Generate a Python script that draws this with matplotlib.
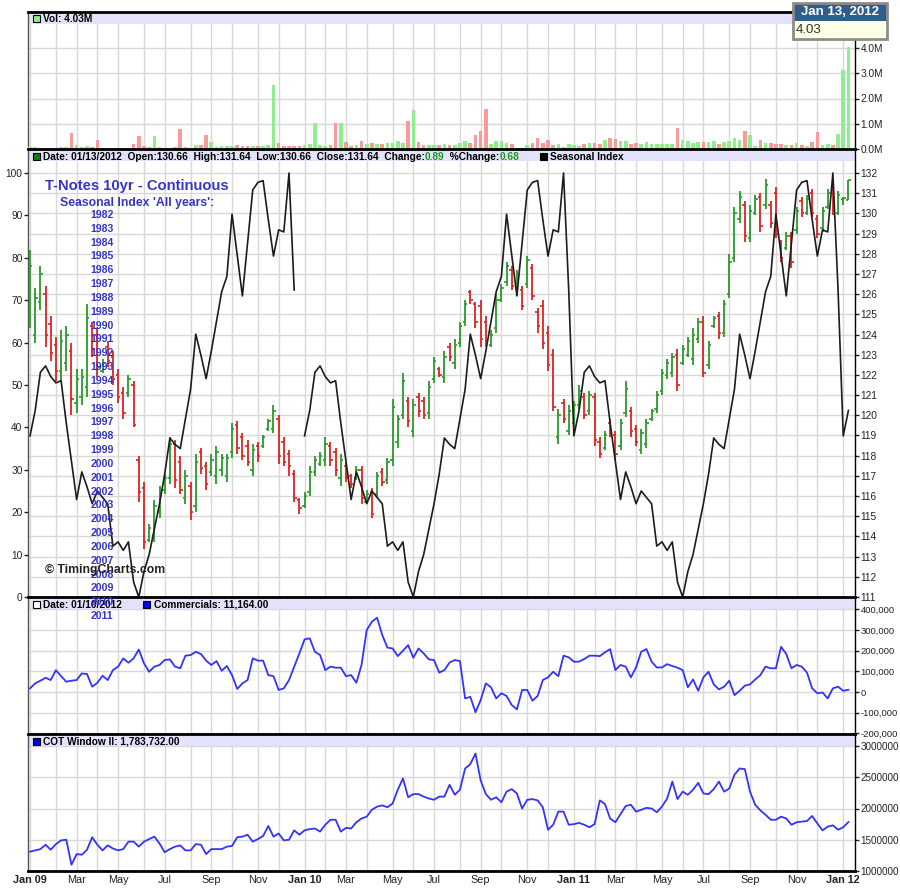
import matplotlib
matplotlib.use("Agg")
import matplotlib.pyplot as plt
import matplotlib.patches as mpatches
import matplotlib.ticker as mticker
import numpy as np
import pandas as pd


FIRST_WEEK = "2009-01-02"

HIGH = [
    128.2, 126.3, 127.4, 126.4, 124.9, 123.9, 124.2, 124.4, 123.6, 122.3,
    122.3, 125.5, 124.6, 124.3, 122.8, 123.7, 123.2, 122.3, 121.4, 122.0,
    121.7, 118.0, 116.7, 114.6, 115.8, 116.5, 117.1, 118.9, 118.8, 118.0,
    117.3, 116.7, 118.1, 118.4, 117.7, 118.1, 118.5, 118.1, 118.1, 119.6,
    119.7, 119.1, 118.8, 118.6, 118.7, 119.0, 119.8, 120.5, 120.0, 118.9,
    118.3, 117.3, 115.9, 116.2, 117.5, 118.0, 118.2, 118.9, 118.7, 118.4,
    118.1, 117.7, 117.1, 117.5, 117.5, 116.3, 116.4, 117.2, 117.4, 117.9,
    120.8, 120.0, 122.1, 120.9, 120.8, 121.1, 120.9, 121.7, 122.9, 122.4,
    123.2, 123.6, 123.8, 124.6, 125.7, 126.2, 125.6, 125.7, 124.9, 124.2,
    126.0, 126.5, 127.6, 127.4, 127.2, 126.4, 127.9, 127.5, 125.3, 125.7,
    124.4, 123.3, 120.3, 120.8, 120.5, 120.7, 121.5, 121.1, 121.2, 121.1,
    118.9, 119.2, 119.8, 119.2, 119.8, 121.7, 120.4, 119.5, 119.3, 119.8,
    120.3, 121.2, 122.3, 122.8, 123.1, 123.3, 123.5, 123.9, 124.3, 124.8,
    124.9, 123.7, 124.9, 125.1, 125.7, 128.0, 130.3, 131.1, 130.6, 130.4,
    130.9, 131.0, 131.7, 130.6, 131.3, 128.7, 129.1, 129.1, 130.3, 130.8,
    130.9, 131.2, 129.9, 130.3, 131.2, 131.4, 131.1, 130.8, 131.64,
]
LOW = [
    124.3, 123.6, 125.2, 123.4, 122.7, 121.7, 121.7, 122.2, 120.0, 120.1,
    120.5, 120.9, 122.9, 121.9, 122.1, 122.4, 121.5, 120.6, 119.8, 120.9,
    119.4, 115.7, 113.4, 113.7, 113.7, 114.9, 116.1, 116.6, 116.4, 116.1,
    115.6, 114.8, 115.2, 117.1, 116.3, 117.0, 116.6, 117.0, 116.7, 117.9,
    118.1, 117.8, 117.5, 117.0, 117.7, 118.4, 119.2, 119.1, 117.6, 117.5,
    117.0, 115.7, 115.1, 115.4, 116.0, 117.0, 117.5, 117.5, 117.5, 117.0,
    116.5, 116.7, 116.4, 116.8, 115.6, 115.6, 114.9, 115.9, 116.5, 116.6,
    117.5, 118.4, 119.8, 119.4, 118.9, 119.9, 119.8, 119.8, 121.6, 121.9,
    121.6, 122.7, 122.3, 123.4, 124.4, 125.5, 124.3, 123.4, 123.4, 123.4,
    124.1, 125.6, 126.4, 126.2, 126.2, 125.2, 126.3, 125.7, 124.1, 123.3,
    122.2, 120.2, 118.6, 119.6, 119.0, 119.4, 120.3, 119.8, 120.0, 118.5,
    117.9, 118.3, 118.9, 117.8, 118.3, 119.9, 118.9, 118.5, 118.1, 118.4,
    119.7, 120.1, 121.0, 121.8, 121.9, 121.2, 122.5, 122.9, 122.5, 123.6,
    121.9, 122.3, 124.3, 123.8, 123.9, 125.8, 127.6, 129.5, 128.6, 128.6,
    129.9, 129.1, 130.2, 129.3, 128.8, 127.6, 128.2, 127.3, 129.0, 129.8,
    129.9, 129.8, 128.8, 129.1, 130.2, 129.9, 129.9, 130.4, 130.66,
]
OPEN = [
    124.8, 124.0, 125.6, 126.0, 124.5, 123.5, 122.2, 122.6, 123.2, 120.6,
    120.9, 121.4, 124.4, 124.0, 122.2, 123.4, 122.9, 122.0, 121.1, 121.1,
    121.5, 117.8, 116.4, 113.8, 114.0, 115.2, 116.3, 116.9, 118.6, 117.7,
    115.9, 116.5, 115.5, 118.2, 117.5, 117.2, 117.0, 117.3, 117.0, 118.2,
    119.5, 118.9, 118.5, 117.3, 118.5, 118.5, 119.3, 119.3, 119.8, 118.7,
    118.1, 117.1, 115.8, 115.5, 116.2, 117.2, 117.6, 117.8, 118.5, 118.2,
    116.9, 117.5, 117.0, 116.9, 117.3, 115.7, 116.2, 116.1, 117.2, 116.8,
    117.8, 118.7, 120.0, 120.7, 119.2, 120.9, 120.7, 120.1, 121.8, 122.3,
    121.9, 123.4, 122.6, 123.6, 124.6, 126.1, 125.5, 125.4, 124.6, 123.5,
    124.3, 125.7, 126.6, 127.2, 126.3, 126.2, 126.5, 127.3, 125.1, 125.4,
    124.1, 123.0, 118.9, 120.6, 119.2, 119.6, 120.5, 120.9, 120.2, 120.9,
    118.7, 118.4, 119.6, 119.0, 118.5, 120.1, 120.2, 119.3, 118.3, 118.6,
    119.8, 120.3, 121.2, 122.0, 122.1, 123.0, 122.6, 123.0, 122.8, 123.8,
    124.6, 122.5, 124.4, 124.9, 124.1, 126.0, 127.8, 129.7, 130.4, 128.8,
    130.0, 130.8, 130.4, 130.4, 131.0, 128.5, 128.3, 128.9, 129.2, 130.6,
    130.0, 131.0, 129.7, 129.3, 130.3, 131.2, 130.0, 130.7, 130.66,
]
CLOSE = [
    127.4, 125.8, 127.0, 124.0, 123.1, 122.2, 123.7, 124.0, 120.8, 121.8,
    121.9, 124.8, 123.3, 122.4, 122.6, 122.7, 121.8, 120.9, 120.1, 121.8,
    119.5, 116.2, 113.7, 114.4, 115.5, 116.2, 116.9, 118.6, 116.8, 116.3,
    117.0, 115.2, 117.7, 117.4, 116.6, 117.8, 118.2, 117.9, 117.9, 119.3,
    118.4, 118.0, 117.7, 118.3, 118.0, 118.9, 119.7, 120.2, 118.0, 117.7,
    117.5, 115.9, 115.4, 116.0, 117.2, 117.8, 118.0, 118.6, 117.8, 117.3,
    117.8, 116.9, 116.6, 117.3, 115.9, 116.1, 115.1, 117.0, 116.7, 117.7,
    120.4, 119.8, 121.7, 119.7, 120.5, 120.2, 120.0, 121.4, 122.7, 122.0,
    122.9, 122.9, 123.5, 124.4, 125.5, 125.7, 124.6, 123.8, 123.7, 124.0,
    125.7, 126.3, 127.4, 126.4, 127.0, 125.4, 127.7, 125.9, 124.4, 123.6,
    122.5, 120.4, 120.0, 119.8, 120.2, 120.5, 121.2, 120.0, 121.0, 118.8,
    118.1, 119.0, 119.1, 118.1, 119.6, 121.3, 119.2, 118.7, 119.1, 119.6,
    120.2, 121.0, 122.1, 122.6, 122.9, 121.5, 123.3, 123.7, 124.0, 124.6,
    122.1, 123.5, 124.8, 124.1, 125.5, 127.6, 130.0, 130.8, 128.9, 130.1,
    130.7, 129.4, 131.4, 129.5, 129.0, 127.8, 128.9, 127.6, 130.1, 130.0,
    130.7, 130.0, 129.0, 130.1, 131.0, 130.1, 130.9, 130.75, 131.64,
]

# weekly volume, millions of contracts
VOLUME_M = [
    0.09, 0.09, 0.05, 0.05, 0.05, 0.05, 0.07, 0.09, 0.65, 0.16,
    0.09, 0.13, 0.09, 0.36, 0.05, 0.05, 0.05, 0.05, 0.05, 0.05,
    0.20, 0.53, 0.13, 0.09, 0.51, 0.09, 0.05, 0.05, 0.09, 0.79,
    0.09, 0.05, 0.17, 0.17, 0.57, 0.28, 0.09, 0.13, 0.11, 0.13,
    0.17, 0.11, 0.13, 0.13, 0.13, 0.13, 0.17, 2.53, 0.24, 0.13,
    0.11, 0.11, 0.11, 0.17, 0.20, 1.03, 0.17, 0.13, 0.17, 1.03,
    1.03, 0.28, 0.13, 0.17, 0.32, 0.21, 0.24, 0.20, 0.20, 0.24,
    0.24, 0.32, 0.24, 1.12, 1.56, 0.28, 0.17, 0.17, 0.17, 0.17,
    0.20, 0.17, 0.17, 0.24, 0.32, 0.24, 0.57, 0.73, 1.60, 0.20,
    0.32, 0.32, 0.24, 0.20, 0.05, 0.05, 0.17, 0.24, 0.42, 0.24,
    0.36, 0.17, 0.20, 0.09, 0.20, 0.17, 0.13, 0.20, 0.24, 0.24,
    0.20, 0.36, 0.42, 0.38, 0.32, 0.32, 0.21, 0.24, 0.21, 0.28,
    0.21, 0.20, 0.20, 0.20, 0.20, 0.83, 0.36, 0.32, 0.24, 0.28,
    0.28, 0.28, 0.32, 0.20, 0.28, 0.32, 0.42, 0.36, 0.71, 0.57,
    0.13, 0.36, 0.24, 0.24, 0.20, 0.20, 0.17, 0.17, 0.24, 0.17,
    0.13, 0.28, 0.67, 0.17, 0.20, 0.17, 0.61, 3.13, 4.03,
]

# seasonal index by ISO week of the year (1..52)
SEASONAL_BY_WEEK = [
    38, 44, 53, 54.5, 52, 50.5, 51, 41, 32, 23,
    29.5, 26, 22, 25, 23.5, 22, 12, 13, 11, 13,
    3.5, 0, 6, 10, 16, 22, 29, 37.5, 36, 35,
    42, 49, 62, 57, 51.5, 58, 65, 72, 75.6, 90.3,
    80.6, 71, 83.5, 96, 97.8, 98.2, 89, 80.4, 86.6, 86.1,
    100, 72.4,
]

# commercials net position, thousands
COMMERCIALS_K = [
    18, 42, 55, 69, 58, 106, 77, 50, 55, 58,
    90, 87, 26, 45, 79, 58, 106, 123, 163, 142,
    163, 206, 139, 98, 123, 131, 155, 158, 123, 115,
    176, 179, 195, 184, 152, 131, 150, 103, 126, 82,
    15, 42, 58, 163, 152, 152, 82, 77, 10, 18,
    58, 123, 187, 255, 260, 195, 179, 106, 123, 118,
    118, 77, 82, 45, 131, 300, 340, 360, 276, 215,
    211, 174, 200, 227, 166, 211, 187, 158, 155, 94,
    106, 143, 155, 150, -31, -23, -98, -39, 42, 23,
    -31, -6, -19, -63, -84, 10, 10, -42, -19, 58,
    71, 98, 77, 176, 168, 147, 147, 160, 176, 176,
    174, 192, 208, 106, 131, 123, 71, 119, 195, 208,
    147, 119, 119, 135, 126, 118, 106, 23, 61, 6,
    71, 98, 37, 13, 26, 55, -15, 6, 31, 37,
    61, 82, 123, 115, 115, 219, 184, 115, 131, 123,
    94, 18, -6, -2, -31, 18, 26, 6, 11.164,
]

# COT window II, millions
COT_WINDOW_M = [
    1.31, 1.33, 1.35, 1.42, 1.34, 1.43, 1.49, 1.50, 1.10, 1.27,
    1.26, 1.34, 1.54, 1.42, 1.33, 1.41, 1.36, 1.33, 1.35, 1.47,
    1.47, 1.39, 1.47, 1.51, 1.55, 1.44, 1.30, 1.35, 1.39, 1.41,
    1.33, 1.33, 1.43, 1.42, 1.27, 1.35, 1.35, 1.35, 1.39, 1.40,
    1.54, 1.55, 1.58, 1.47, 1.51, 1.56, 1.72, 1.55, 1.60, 1.49,
    1.50, 1.65, 1.58, 1.65, 1.67, 1.68, 1.63, 1.74, 1.82, 1.82,
    1.63, 1.69, 1.68, 1.78, 1.84, 1.87, 1.98, 2.03, 2.05, 2.02,
    2.08, 2.30, 2.48, 2.18, 2.23, 2.23, 2.19, 2.16, 2.14, 2.19,
    2.19, 2.38, 2.22, 2.30, 2.64, 2.71, 2.88, 2.45, 2.23, 2.14,
    2.18, 2.10, 2.27, 2.31, 2.24, 2.00, 2.14, 2.15, 2.13, 2.02,
    1.66, 1.74, 1.95, 1.95, 1.74, 1.75, 1.77, 1.74, 1.70, 1.75,
    2.13, 2.07, 1.84, 1.78, 1.91, 2.04, 2.06, 1.95, 1.98, 2.01,
    2.00, 1.94, 2.03, 2.16, 2.43, 2.15, 2.27, 2.22, 2.30, 2.41,
    2.24, 2.23, 2.31, 2.43, 2.27, 2.32, 2.54, 2.64, 2.63, 2.27,
    2.06, 1.97, 1.90, 1.82, 1.82, 1.87, 1.84, 1.74, 1.78, 1.79,
    1.80, 1.88, 1.76, 1.65, 1.71, 1.73, 1.66, 1.70, 1.783732,
]

INDEX_YEARS = [str(y) for y in range(1982, 2012)]

GREEN = "#2A9A2A"
RED = "#DD2222"
VOL_GREEN = "#90EE90"
VOL_RED = "#FA9A9A"
BAND = "#E2E2FA"
GRID = "#D8D8D8"
LINE_BLUE = "#3333FF"
TEXT_BLUE = "#3535CC"

W, H = 900, 893


def fig_rect(x0, y0, x1, y1):
    return [x0 / W, 1 - y1 / H, (x1 - x0) / W, (y1 - y0) / H]


def header_band(ax, height_px, panel_px):
    ax.add_patch(mpatches.Rectangle(
        (0, 1 - height_px / panel_px), 1, height_px / panel_px,
        transform=ax.transAxes, facecolor=BAND, edgecolor="none", zorder=2))


def icon(fig, x, y, face):
    fig.add_artist(mpatches.Rectangle(
        (x / W, 1 - (y + 7) / H), 7 / W, 7 / H, transform=fig.transFigure,
        facecolor=face, edgecolor="black", linewidth=0.8, zorder=5))


def header_text(ax, x, y, parts, size=7.3):
    prev = None
    for text, color in parts:
        if prev is None:
            prev = ax.annotate(text, xy=(x, H - y), xycoords="figure pixels",
                               va="center", ha="left", fontsize=size,
                               fontweight="bold", color=color, zorder=6,
                               annotation_clip=False)
        else:
            prev = ax.annotate(text, xy=(1, 0.5), xycoords=prev,
                               va="center", ha="left", fontsize=size,
                               fontweight="bold", color=color, zorder=6,
                               annotation_clip=False)


def style_y(ax, side, size=7.3):
    if side == "right":
        ax.yaxis.tick_right()
    else:
        ax.yaxis.tick_left()
    ax.tick_params(axis="y", direction="out", length=3, width=1, colors="#222",
                   labelsize=size, pad=1)


plt.rcParams["font.family"] = ["Liberation Sans", "DejaVu Sans"]

n = len(CLOSE)
x = np.arange(n)
weeks = pd.date_range(FIRST_WEEK, periods=n, freq="W-FRI")
# New Year's Day is a holiday, the week's last session falls in December
bar_dates = pd.DatetimeIndex(
    [d - pd.Timedelta(days=1) if (d.month == 1 and d.day == 1) else d for d in weeks])
months = bar_dates.to_period("M")
month_idx = [0] + [i for i in range(1, n) if months[i] != months[i - 1]]
month_labels = []
for i in month_idx:
    m = months[i]
    if m.month == 1:
        month_labels.append(f"Jan {m.year % 100:02d}")
    elif m.month in (3, 5, 7, 9, 11):
        month_labels.append(m.strftime("%b"))
    else:
        month_labels.append("")

iso_week = weeks.isocalendar().week.to_numpy()
seasonal = np.array([SEASONAL_BY_WEEK[w - 1] if w <= 52 else np.nan for w in iso_week])

up = np.array(CLOSE) >= np.array(OPEN)
bar_colors = np.where(up, GREEN, RED)
vol_colors = np.where(up, VOL_GREEN, VOL_RED)

fig = plt.figure(figsize=(9, 8.93), dpi=100)
fig.patch.set_facecolor("white")

ax_vol = fig.add_axes(fig_rect(28, 12, 855, 149))
ax_px = fig.add_axes(fig_rect(28, 149, 855, 597))
ax_com = fig.add_axes(fig_rect(28, 597, 855, 734))
ax_cot = fig.add_axes(fig_rect(28, 734, 855, 871))
panels = [ax_vol, ax_px, ax_com, ax_cot]

for ax in panels:
    ax.set_xlim(-0.39, n + 0.27)
    ax.set_xticks(month_idx)
    ax.set_axisbelow(True)
    ax.grid(True, color=GRID, linewidth=1.0)
    ax.tick_params(axis="x", length=0, labelbottom=False)
    for spine in ax.spines.values():
        spine.set_color("black")
        spine.set_linewidth(1.0)
    ax.spines["top"].set_linewidth(2.0)
    ax.spines["left"].set_color("#555")

# volume
ax_vol.bar(x, VOLUME_M, width=0.7, color=vol_colors, zorder=3)
ax_vol.set_ylim(0, 137 / 25.25)
ax_vol.set_yticks([0, 1, 2, 3, 4])
ax_vol.yaxis.set_major_formatter(mticker.FuncFormatter(lambda v, _p: f"{v:.1f}M"))
header_band(ax_vol, 12, 137)

# price bars, seasonal index on a twin scale
ax_px.vlines(x, LOW, HIGH, colors=bar_colors, linewidth=1.3, zorder=3)
ax_px.hlines(OPEN, x - 0.45, x, colors=bar_colors, linewidth=1.2, zorder=3)
ax_px.hlines(CLOSE, x, x + 0.45, colors=bar_colors, linewidth=1.2, zorder=3)
ax_px.set_ylim(111, 111 + 448 / 20.19)
ax_px.set_yticks(range(111, 133))
header_band(ax_px, 12, 448)

ax_seas = ax_px.twinx()
ax_seas.plot(x, seasonal, color="#1C1C1C", linewidth=1.2, zorder=4)
ax_seas.set_ylim(0, 448 / 4.24)
ax_seas.set_yticks(range(0, 101, 10))
for spine in ax_seas.spines.values():
    spine.set_visible(False)

style_y(ax_vol, "right")
style_y(ax_px, "right")
style_y(ax_seas, "left")
style_y(ax_com, "right", size=6.8)
style_y(ax_cot, "right", size=7.1)

# commercials
ax_com.plot(x, np.array(COMMERCIALS_K) * 1000, color=LINE_BLUE, linewidth=1.3, zorder=3)
ax_com.set_ylim(-203000, 460000)
ax_com.set_yticks(range(-200000, 400001, 100000))
ax_com.yaxis.set_major_formatter(mticker.FuncFormatter(lambda v, _p: f"{int(v):,}"))
header_band(ax_com, 12, 137)

# COT window
ax_cot.plot(x, np.array(COT_WINDOW_M) * 1e6, color=LINE_BLUE, linewidth=1.3, zorder=3)
ax_cot.set_ylim(1e6, 1e6 + 137 / 62.5 * 1e6)
ax_cot.set_yticks([1e6, 1.5e6, 2e6, 2.5e6, 3e6])
ax_cot.yaxis.set_major_formatter(mticker.FuncFormatter(lambda v, _p: f"{int(v)}"))
header_band(ax_cot, 12, 137)
ax_cot.spines["bottom"].set_linewidth(2.0)
ax_cot.tick_params(axis="x", labelbottom=True, labelsize=7.8, pad=3, colors="#222")
ax_cot.set_xticklabels(month_labels)
for lab in ax_cot.get_xticklabels():
    if lab.get_text().startswith("Jan"):
        lab.set_fontweight("bold")

# panel headers
icon(fig, 33, 15, VOL_GREEN)
header_text(ax_vol, 43, 18.5, [("Vol: 4.03M", "black")])

icon(fig, 33, 153, "#108010")
header_text(ax_px, 43, 156.5, [
    ("Date: 01/13/2012  Open:130.66  High:131.64  Low:130.66  Close:131.64  Change:", "black"),
    ("0.89", "#1A9A1A"),
    ("  %Change:", "black"),
    ("0.68", "#1A9A1A"),
])
icon(fig, 540, 153, "black")
header_text(ax_px, 550, 156.5, [("Seasonal Index", "black")])

icon(fig, 33, 601, "white")
header_text(ax_com, 43, 604.5, [("Date: 01/10/2012", "black")])
icon(fig, 143, 601, "#0000EE")
header_text(ax_com, 154, 604.5, [("Commercials: 11,164.00", "black")])

icon(fig, 33, 738, "#0000EE")
header_text(ax_cot, 43, 741.5, [("COT Window II: 1,783,732.00", "black")])

# overlay texts on the price panel
fig.text(45 / W, 1 - 186 / H, "T-Notes 10yr - Continuous", fontsize=10.6,
         fontweight="bold", color=TEXT_BLUE, va="center", ha="left", zorder=8)
fig.text(60 / W, 1 - 203 / H, "Seasonal Index 'All years':", fontsize=8.8,
         fontweight="bold", color=TEXT_BLUE, va="center", ha="left", zorder=8)
for k, year in enumerate(INDEX_YEARS):
    fig.text(102 / W, 1 - (215 + 13.83 * k) / H, year, fontsize=7.6,
             fontweight="bold", color=TEXT_BLUE, va="center", ha="center", zorder=8)
fig.text(45 / W, 1 - 570 / H, "\u00a9 TimingCharts.com", fontsize=8.8,
         fontweight="bold", color="#222", va="center", ha="left", zorder=8)

# date tooltip at the top right
ax_tip = fig.add_axes(fig_rect(793, 3, 887, 39))
ax_tip.set_xlim(0, 1)
ax_tip.set_ylim(0, 1)
ax_tip.axis("off")
ax_tip.add_patch(mpatches.Rectangle((0, 0.5), 1, 0.5, facecolor="#2F5D8C", edgecolor="none"))
ax_tip.add_patch(mpatches.Rectangle((0, 0), 1, 0.5, facecolor="#FFFFE6", edgecolor="none"))
ax_tip.add_patch(mpatches.Rectangle((0, 0), 1, 1, fill=False, edgecolor="#8C8C8C",
                                    linewidth=2, clip_on=False))
ax_tip.text(0.5, 0.75, "Jan 13, 2012", color="white", fontsize=9.5,
            fontweight="bold", ha="center", va="center")
ax_tip.text(0.03, 0.25, "4.03", color="#333", fontsize=9.5, ha="left", va="center")

fig.savefig("out.png", dpi=100, facecolor="white")
plt.close(fig)
